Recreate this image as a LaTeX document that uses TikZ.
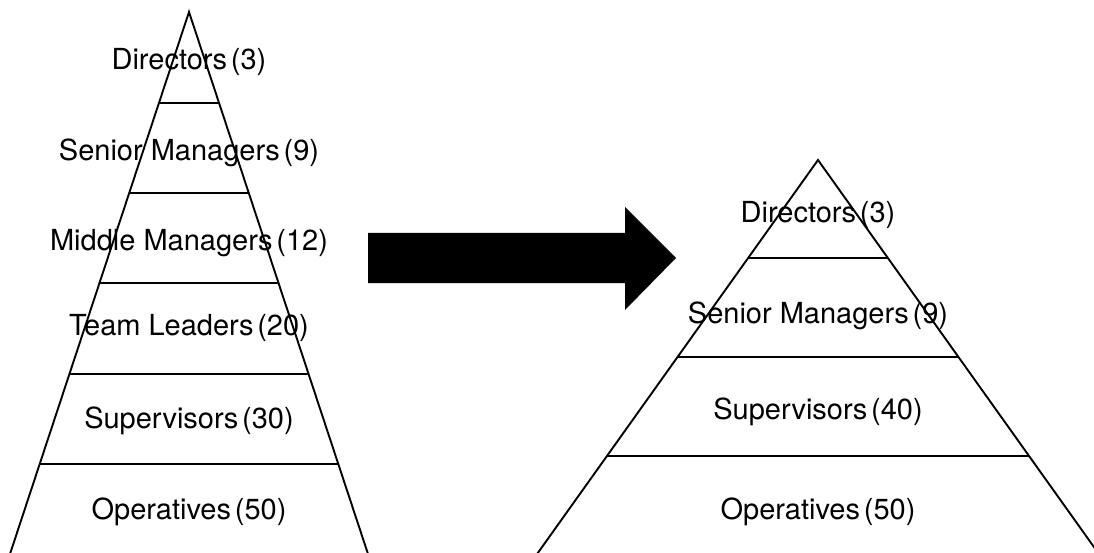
\documentclass[tikz,border=0pt]{standalone}
\usepackage{fontspec}
\setmainfont{TeX Gyre Heros}
\newcommand{\gp}{\hspace{0.13em}}
\begin{document}
\begin{tikzpicture}[x=1pt,y=-1pt,
  edge/.style={line width=1.9pt,black},
  lbl/.style={inner sep=0pt,font=\fontsize{29}{33}\selectfont,anchor=center}]
\useasboundingbox (0,0) rectangle (1094,553);
\clip (0,0) rectangle (1094,553);
% left pyramid
\coordinate (LA) at (189,12);
\coordinate (LBL) at (8,560);
\coordinate (LBR) at (370,560);
\draw[edge] (LBL) -- (LA) -- (LBR);
\foreach \y in {103,193,283,374,464}{
  \draw[edge] ({189-0.33*(\y-12)},\y) -- ({189+0.33*(\y-12)},\y);
}
\node[lbl] (l1) at (189,62) {Directors\gp(3)};
\node[lbl] (l2) at (189,153) {Senior Managers\gp(9)};
\node[lbl] (l3) at (189,243) {Middle Managers\gp(12)};
\node[lbl] (l4) at (189,328) {Team Leaders\gp(20)};
\node[lbl] (l5) at (189,421) {Supervisors\gp(30)};
\node[lbl] (l6) at (189,512) {Operatives\gp(50)};
% arrow
\fill[black] (368,233) -- (625,233) -- (625,207) -- (676,258) -- (625,310) -- (625,283) -- (368,283) -- cycle;
% right pyramid
\coordinate (RA) at (818,160);
\draw[edge] ({818-0.713*400},560) -- (RA) -- ({818+0.713*400},560);
\foreach \y in {258,357,456}{
  \draw[edge] ({818-0.713*(\y-160)},\y) -- ({818+0.713*(\y-160)},\y);
}
\node[lbl] (r1) at (818,215) {Directors\gp(3)};
\node[lbl] (r2) at (818,316) {Senior Managers\gp(9)};
\node[lbl] (r3) at (818,412) {Supervisors\gp(40)};
\node[lbl] (r4) at (818,512) {Operatives\gp(50)};
\end{tikzpicture}
\end{document}
